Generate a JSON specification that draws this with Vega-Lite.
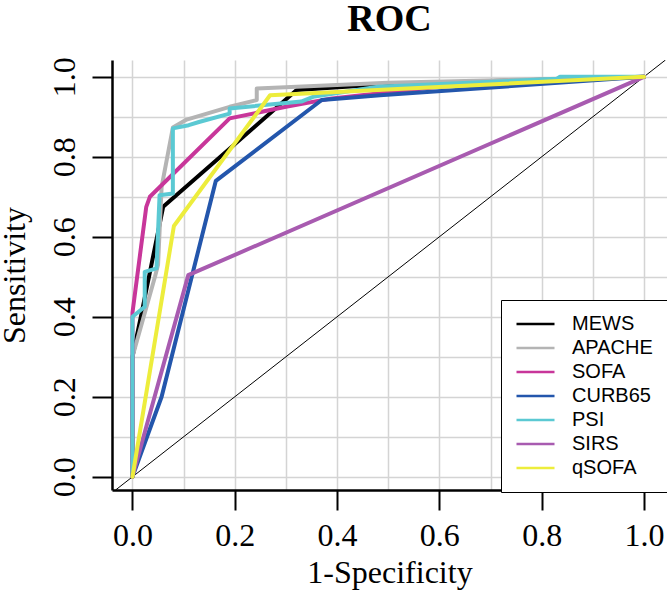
{
  "$schema": "https://vega.github.io/schema/vega-lite/v6.json",
  "width": 555,
  "height": 430,
  "autosize": "none",
  "padding": {"left": 112, "top": 60, "right": 0, "bottom": 110},
  "background": "white",
  "config": {
    "view": {"stroke": null},
    "font": "Liberation Serif"
  },
  "title": {
    "text": "ROC",
    "font": "Liberation Serif",
    "fontSize": 38,
    "fontWeight": "bold",
    "color": "black",
    "anchor": "middle",
    "frame": "group",
    "baseline": "bottom",
    "offset": 20,
    "dy": 40
  },
  "encoding": {
    "x": {
      "field": "x",
      "type": "quantitative",
      "scale": {"domain": [-0.04, 1.045], "nice": false, "zero": false},
      "axis": {
        "title": "1-Specificity",
        "values": [0, 0.1, 0.2, 0.3, 0.4, 0.5, 0.6, 0.7, 0.8, 0.9, 1.0],
        "labelExpr": "round(datum.value*10) % 2 == 0 ? format(datum.value, '.1f') : ''",
        "labelFont": "Liberation Serif",
        "labelFontSize": 32,
        "labelColor": "black",
        "labelPadding": 10,
        "labelFlush": false,
        "labelOverlap": false,
        "tickSize": 20,
        "tickWidth": 2,
        "tickColor": "black",
        "tickOpacity": {"condition": {"test": "round(datum.value*10) % 2 == 0", "value": 1}, "value": 0},
        "domainColor": "black",
        "domainWidth": 2.5,
        "grid": true,
        "gridColor": "#d4d4d4",
        "gridWidth": 1.5,
        "titleFont": "Liberation Serif",
        "titleFontSize": 32,
        "titleFontWeight": "normal",
        "titleColor": "black",
        "titlePadding": 6
      }
    },
    "y": {
      "field": "y",
      "type": "quantitative",
      "scale": {"domain": [-0.033, 1.042], "nice": false, "zero": false},
      "axis": {
        "title": "Sensitivity",
        "values": [0, 0.1, 0.2, 0.3, 0.4, 0.5, 0.6, 0.7, 0.8, 0.9, 1.0],
        "labelExpr": "round(datum.value*10) % 2 == 0 ? format(datum.value, '.1f') : ''",
        "labelFont": "Liberation Serif",
        "labelFontSize": 32,
        "labelColor": "black",
        "labelAngle": 270,
        "labelAlign": "center",
        "labelBaseline": "bottom",
        "labelPadding": 11,
        "labelFlush": false,
        "labelOverlap": false,
        "tickSize": 20,
        "tickWidth": 2,
        "tickColor": "black",
        "tickOpacity": {"condition": {"test": "round(datum.value*10) % 2 == 0", "value": 1}, "value": 0},
        "domainColor": "black",
        "domainWidth": 2.5,
        "grid": true,
        "gridColor": "#d4d4d4",
        "gridWidth": 1.5,
        "titleFont": "Liberation Serif",
        "titleFontSize": 32,
        "titleFontWeight": "normal",
        "titleColor": "black",
        "titlePadding": 17
      }
    }
  },
  "layer": [
    {
      "data": {"values": [{"x": -0.033, "y": -0.033}, {"x": 1.042, "y": 1.042}]},
      "mark": {"type": "line", "color": "black", "strokeWidth": 1, "clip": true},
      "encoding": {}
    },
    {
      "data": {
        "values": [
          {"s": "MEWS", "x": 0, "y": 0},
          {"s": "MEWS", "x": 0, "y": 0.3},
          {"s": "MEWS", "x": 0.018, "y": 0.41},
          {"s": "MEWS", "x": 0.06, "y": 0.675},
          {"s": "MEWS", "x": 0.321, "y": 0.967},
          {"s": "MEWS", "x": 0.5, "y": 0.982},
          {"s": "MEWS", "x": 1, "y": 1},
          {"s": "APACHE", "x": 0, "y": 0},
          {"s": "APACHE", "x": 0, "y": 0.3},
          {"s": "APACHE", "x": 0.044, "y": 0.5},
          {"s": "APACHE", "x": 0.05, "y": 0.53},
          {"s": "APACHE", "x": 0.057, "y": 0.725},
          {"s": "APACHE", "x": 0.079, "y": 0.873},
          {"s": "APACHE", "x": 0.106, "y": 0.893},
          {"s": "APACHE", "x": 0.19, "y": 0.925},
          {"s": "APACHE", "x": 0.243, "y": 0.942},
          {"s": "APACHE", "x": 0.243, "y": 0.971},
          {"s": "APACHE", "x": 0.5, "y": 0.985},
          {"s": "APACHE", "x": 1, "y": 1},
          {"s": "SOFA", "x": 0, "y": 0},
          {"s": "SOFA", "x": 0, "y": 0.41},
          {"s": "SOFA", "x": 0.027, "y": 0.675},
          {"s": "SOFA", "x": 0.034, "y": 0.7},
          {"s": "SOFA", "x": 0.19, "y": 0.896},
          {"s": "SOFA", "x": 0.3, "y": 0.925},
          {"s": "SOFA", "x": 0.39, "y": 0.946},
          {"s": "SOFA", "x": 0.6, "y": 0.975},
          {"s": "SOFA", "x": 1, "y": 1},
          {"s": "CURB65", "x": 0, "y": 0},
          {"s": "CURB65", "x": 0.057, "y": 0.2},
          {"s": "CURB65", "x": 0.163, "y": 0.74},
          {"s": "CURB65", "x": 0.37, "y": 0.942},
          {"s": "CURB65", "x": 0.484, "y": 0.954},
          {"s": "CURB65", "x": 1, "y": 1},
          {"s": "PSI", "x": 0, "y": 0},
          {"s": "PSI", "x": 0, "y": 0.4},
          {"s": "PSI", "x": 0.024, "y": 0.425},
          {"s": "PSI", "x": 0.024, "y": 0.5125},
          {"s": "PSI", "x": 0.047, "y": 0.521},
          {"s": "PSI", "x": 0.053, "y": 0.704},
          {"s": "PSI", "x": 0.079, "y": 0.708},
          {"s": "PSI", "x": 0.079, "y": 0.871},
          {"s": "PSI", "x": 0.11, "y": 0.879},
          {"s": "PSI", "x": 0.13, "y": 0.887},
          {"s": "PSI", "x": 0.19, "y": 0.908},
          {"s": "PSI", "x": 0.19, "y": 0.921},
          {"s": "PSI", "x": 0.33, "y": 0.938},
          {"s": "PSI", "x": 0.353, "y": 0.95},
          {"s": "PSI", "x": 0.48, "y": 0.975},
          {"s": "PSI", "x": 0.83, "y": 0.995},
          {"s": "PSI", "x": 0.836, "y": 1.0},
          {"s": "PSI", "x": 1, "y": 1},
          {"s": "SIRS", "x": 0, "y": 0},
          {"s": "SIRS", "x": 0.109, "y": 0.504},
          {"s": "SIRS", "x": 1, "y": 1},
          {"s": "qSOFA", "x": 0, "y": 0},
          {"s": "qSOFA", "x": 0.081, "y": 0.627},
          {"s": "qSOFA", "x": 0.269, "y": 0.954},
          {"s": "qSOFA", "x": 1, "y": 1}
        ]
      },
      "mark": {"type": "line", "strokeWidth": 4, "strokeJoin": "round", "strokeCap": "round"},
      "encoding": {
        "order": {"value": null},
        "color": {
          "field": "s",
          "type": "nominal",
          "scale": {
            "domain": ["MEWS", "APACHE", "SOFA", "CURB65", "PSI", "SIRS", "qSOFA"],
            "range": ["#000000", "#b4b4b4", "#c8369a", "#2356ac", "#5bc9d3", "#a85bb0", "#eded3c"]
          },
          "legend": {
            "title": null,
            "orient": "none",
            "legendX": 389,
            "legendY": 240,
            "strokeColor": "black",
            "fillColor": "white",
            "padding": 14,
            "symbolType": "stroke",
            "symbolSize": 1444,
            "symbolStrokeWidth": 2.5,
            "clipHeight": 20,
            "labelFont": "Liberation Sans",
            "labelFontSize": 20,
            "labelColor": "black",
            "labelOffset": 16,
            "rowPadding": 4
          }
        }
      }
    }
  ]
}
